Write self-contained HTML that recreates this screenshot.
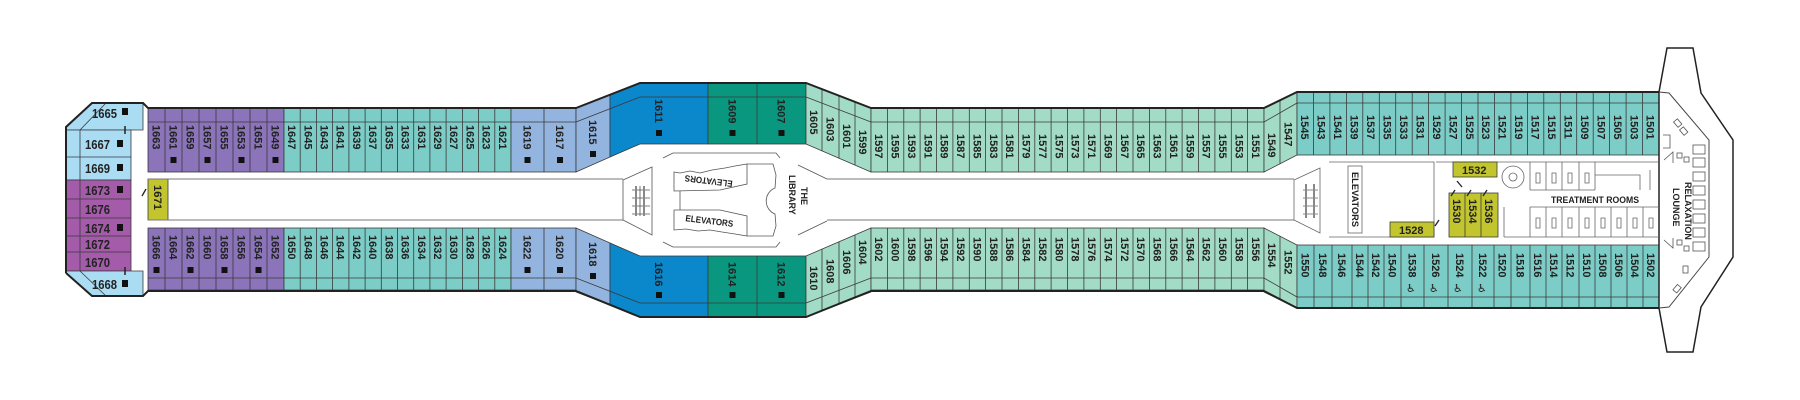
<!DOCTYPE html>
<html><head><meta charset="utf-8"><style>
html,body{margin:0;padding:0;background:#fff;}
svg{display:block;}
.c{stroke:#3a3a3a;stroke-width:0.8;}
.t{font-family:"Liberation Sans",sans-serif;font-size:11px;font-weight:bold;fill:#222;}
.h{font-family:"Liberation Sans",sans-serif;font-size:13px;font-weight:bold;fill:#222;}
.s{font-family:"Liberation Sans",sans-serif;font-size:9px;font-weight:bold;fill:#222;}
</style></head><body>
<svg width="1800" height="400" viewBox="0 0 1800 400" xmlns="http://www.w3.org/2000/svg">
<rect width="1800" height="400" fill="#fff"/>

<!-- LEFT END BLOCK -->
<polygon class="c" fill="#aadcf3" points="66,127 92,103 143,103 143,130 66,130"/>
<polygon class="c" fill="#aadcf3" points="66,130 131,130 131,180 66,180"/>
<line class="c" x1="66" y1="157" x2="131" y2="157"/>
<rect class="c" fill="#a45ba9" x="66" y="180" width="65" height="91"/>
<line class="c" x1="66" y1="199" x2="131" y2="199"/>
<line class="c" x1="66" y1="218" x2="131" y2="218"/>
<line class="c" x1="66" y1="236" x2="131" y2="236"/>
<line class="c" x1="66" y1="252" x2="131" y2="252"/>
<polygon class="c" fill="#aadcf3" points="66,271 143,271 143,296 92,296 66,273"/>
<line class="c" x1="80" y1="130" x2="80" y2="271"/>
<line class="c" x1="80" y1="130" x2="106" y2="103"/>
<line class="c" x1="80" y1="271" x2="106" y2="296"/>
<line stroke="#222" stroke-width="1.5" x1="125" y1="126" x2="125" y2="134"/>
<line stroke="#222" stroke-width="1.5" x1="125" y1="267" x2="125" y2="275"/>
<text class="h" x="92" y="118" textLength="25" lengthAdjust="spacingAndGlyphs">1665</text><rect x="122" y="108" width="6" height="7" fill="#111"/>
<text class="h" x="85" y="149" textLength="25" lengthAdjust="spacingAndGlyphs">1667</text><rect x="117" y="140" width="6" height="7" fill="#111"/>
<text class="h" x="85" y="173" textLength="25" lengthAdjust="spacingAndGlyphs">1669</text><rect x="117" y="164" width="6" height="7" fill="#111"/>
<text class="h" x="85" y="195" textLength="25" lengthAdjust="spacingAndGlyphs">1673</text><rect x="117" y="186" width="6" height="7" fill="#111"/>
<text class="h" x="85" y="214" textLength="25" lengthAdjust="spacingAndGlyphs">1676</text>
<text class="h" x="85" y="233" textLength="25" lengthAdjust="spacingAndGlyphs">1674</text><rect x="117" y="224" width="6" height="7" fill="#111"/>
<text class="h" x="85" y="249" textLength="25" lengthAdjust="spacingAndGlyphs">1672</text>
<text class="h" x="85" y="267" textLength="25" lengthAdjust="spacingAndGlyphs">1670</text>
<text class="h" x="92" y="289" textLength="25" lengthAdjust="spacingAndGlyphs">1668</text><rect x="122" y="280" width="6" height="7" fill="#111"/>

<!-- 1671 -->
<rect class="c" fill="#c3c52e" x="148" y="179" width="20" height="41"/>
<text class="t" x="154" y="185" transform="rotate(90 154 185)" textLength="25" lengthAdjust="spacingAndGlyphs">1671</text>
<line stroke="#222" stroke-width="1.3" x1="142" y1="196" x2="146" y2="189"/>

<!-- LEFT ROWS -->
<rect class="c" fill="#8b74b9" x="148" y="108" width="136" height="64"/>
<rect class="c" fill="#7ccdc7" x="284" y="108" width="227" height="64"/>
<rect class="c" fill="#93b4de" x="511" y="108" width="65" height="64"/>
<rect class="c" fill="#8b74b9" x="148" y="228" width="136" height="62"/>
<rect class="c" fill="#7ccdc7" x="284" y="228" width="227" height="62"/>
<rect class="c" fill="#93b4de" x="511" y="228" width="65" height="62"/>
<g class="c">
<line x1="148" y1="122" x2="576" y2="122"/><line x1="148" y1="278" x2="576" y2="278"/>
<path d="M165 108V172M182 108V172M199 108V172M216 108V172M233 108V172M250 108V172M267 108V172M300.2 108V172M316.4 108V172M332.6 108V172M348.9 108V172M365.1 108V172M381.3 108V172M397.5 108V172M413.7 108V172M429.9 108V172M446.1 108V172M462.4 108V172M478.6 108V172M494.8 108V172M544 108V172"/>
<path d="M165 228V290M182 228V290M199 228V290M216 228V290M233 228V290M250 228V290M267 228V290M300.2 228V290M316.4 228V290M332.6 228V290M348.9 228V290M365.1 228V290M381.3 228V290M397.5 228V290M413.7 228V290M429.9 228V290M446.1 228V290M462.4 228V290M478.6 228V290M494.8 228V290M544 228V290"/>
</g>

<!-- corridor lines -->
<g stroke="#777" stroke-width="1">
<line x1="148" y1="179" x2="623" y2="179"/><line x1="148" y1="220" x2="623" y2="220"/>
<line x1="827" y1="179" x2="1294" y2="179"/><line x1="827" y1="220" x2="1294" y2="220"/>
</g>

<!-- MID DARK SECTION -->
<polygon class="c" fill="#93b4de" points="576,108 610,95 610,157 576,172"/>
<polygon class="c" fill="#93b4de" points="576,292 610,305 610,243 576,228"/>
<polygon class="c" fill="#0b88cb" points="610,95 640,83 708,83 708,144 640,144 610,157"/>
<polygon class="c" fill="#0b88cb" points="610,305 640,317 708,317 708,256 640,256 610,243"/>
<rect class="c" fill="#0a977f" x="708" y="83" width="98" height="61"/>
<rect class="c" fill="#0a977f" x="708" y="256" width="98" height="61"/>
<line class="c" x1="757" y1="83" x2="757" y2="144"/><line class="c" x1="757" y1="256" x2="757" y2="317"/>
<polyline class="c" fill="none" points="576,122 640,97 806,97"/>
<polyline class="c" fill="none" points="576,278 640,303 806,303"/>
<polygon class="c" fill="#a3dcc6" points="806,83 871,108 871,172 806,144"/>
<polygon class="c" fill="#a3dcc6" points="806,317 871,292 871,228 806,256"/>
<g class="c">
<line x1="806" y1="97" x2="871" y2="122"/><line x1="806" y1="303" x2="871" y2="278"/>
<path d="M822 89V151M839 96V158M855 102V165M822 311V249M839 304V242M855 298V235"/>
</g>

<!-- MID STRAIGHT -->
<rect class="c" fill="#a3dcc6" x="871" y="108" width="393" height="64"/>
<rect class="c" fill="#a3dcc6" x="871" y="228" width="393" height="62"/>
<g class="c">
<line x1="871" y1="122" x2="1264" y2="122"/><line x1="871" y1="278" x2="1264" y2="278"/>
<path d="M887.4 108V172M903.8 108V172M920.1 108V172M936.5 108V172M952.9 108V172M969.3 108V172M985.6 108V172M1002 108V172M1018.4 108V172M1034.8 108V172M1051.1 108V172M1067.5 108V172M1083.9 108V172M1100.3 108V172M1116.6 108V172M1133 108V172M1149.4 108V172M1165.8 108V172M1182.1 108V172M1198.5 108V172M1214.9 108V172M1231.3 108V172M1247.6 108V172"/>
<path d="M887.4 228V290M903.8 228V290M920.1 228V290M936.5 228V290M952.9 228V290M969.3 228V290M985.6 228V290M1002 228V290M1018.4 228V290M1034.8 228V290M1051.1 228V290M1067.5 228V290M1083.9 228V290M1100.3 228V290M1116.6 228V290M1133 228V290M1149.4 228V290M1165.8 228V290M1182.1 228V290M1198.5 228V290M1214.9 228V290M1231.3 228V290M1247.6 228V290"/>
</g>
<polygon class="c" fill="#a3dcc6" points="1264,108 1297,92 1297,155 1264,172"/>
<polygon class="c" fill="#a3dcc6" points="1264,292 1297,308 1297,245 1264,228"/>
<g class="c"><line x1="1264" y1="122" x2="1297" y2="103"/><line x1="1264" y1="278" x2="1297" y2="297"/>
<path d="M1280 100V164M1280 300V236"/></g>

<!-- RIGHT ROWS -->
<rect class="c" fill="#7ccdc7" x="1297" y="92" width="362" height="63"/>
<rect class="c" fill="#7ccdc7" x="1297" y="245" width="362" height="63"/>
<g class="c">
<line x1="1297" y1="103" x2="1659" y2="103"/><line x1="1297" y1="297" x2="1659" y2="297"/>
<path d="M1313.5 92V155M1329.9 92V155M1346.4 92V155M1362.8 92V155M1379.3 92V155M1395.7 92V155M1412.2 92V155M1428.6 92V155M1445.1 92V155M1461.5 92V155M1478 92V155M1494.5 92V155M1510.9 92V155M1527.4 92V155M1543.8 92V155M1560.3 92V155M1576.7 92V155M1593.2 92V155M1609.6 92V155M1626.1 92V155M1642.5 92V155"/>
<path d="M1314 245V308M1332 245V308M1352 245V308M1368 245V308M1384 245V308M1401 245V308M1424 245V308M1448 245V308M1472 245V308M1494 245V308M1511 245V308M1530 245V308M1546 245V308M1562 245V308M1579 245V308M1595 245V308M1611 245V308M1627 245V308M1643 245V308"/>
</g>

<!-- BOW -->
<polygon fill="#fff" stroke="#222" stroke-width="1.5" points="1659,92 1667,48 1693,48 1701,93 1733,140 1733,257 1701,307 1693,352 1667,352 1659,308"/>
<polyline fill="none" stroke="#444" stroke-width="1" points="1659,92 1669,93 1709,140 1709,257 1669,307 1659,308"/>
<g fill="none" stroke="#555" stroke-width="0.8">
<rect x="1693" y="145" width="12" height="9"/><rect x="1693" y="158" width="12" height="9"/><rect x="1693" y="172" width="12" height="9"/><rect x="1693" y="186" width="12" height="9"/><rect x="1693" y="200" width="12" height="9"/><rect x="1693" y="214" width="12" height="9"/><rect x="1693" y="228" width="12" height="9"/><rect x="1693" y="242" width="12" height="9"/>
<rect x="1677" y="153" width="5" height="5"/><rect x="1684" y="157" width="5" height="5"/><rect x="1677" y="240" width="5" height="5"/><rect x="1684" y="246" width="5" height="5"/>
<rect x="1675" y="120" width="5" height="7" transform="rotate(-40 1677 123)"/><rect x="1681" y="128" width="5" height="7" transform="rotate(-40 1683 131)"/>
<rect x="1683" y="266" width="5" height="7"/><rect x="1675" y="285" width="5" height="7" transform="rotate(40 1677 288)"/>
<path d="M1663 135H1670V148H1663M1664 160L1673 152L1673 163M1664 240L1673 248L1673 238"/>
</g>
<text class="s" x="1685" y="182" transform="rotate(90 1685 182)">RELAXATION</text>
<text class="s" x="1673" y="188" transform="rotate(90 1673 188)">LOUNGE</text>

<!-- ship outline thick -->
<polyline fill="none" stroke="#222" stroke-width="2" points="66,273 66,127 92,103 143,103 148,108 576,108 640,83 806,83 871,108 1264,108 1297,92 1659,92"/>
<polyline fill="none" stroke="#222" stroke-width="2" points="66,273 92,296 143,296 148,291 576,291 640,317 806,317 871,291 1264,291 1297,308 1659,308"/>

<!-- CENTER -->
<g fill="none" stroke="#555" stroke-width="0.8">
<polygon points="623,180 652,167 652,235 623,220"/>
<path d="M632 190H650M632 198H650M632 206H650M632 214H650M636 186V216M640 186V216M644 186V216"/>
<polyline points="663,158 673,153 776,153 780,158"/>
<polyline points="663,242 673,247 776,247 780,242"/>
<line x1="798" y1="165" x2="827" y2="179"/><line x1="798" y1="235" x2="827" y2="221"/>
<polygon points="674,172 680,173 690,171 700,173 712,170 725,168 735,166 747,164 747,184 720,190 674,191"/>
<polygon points="674,210 720,210 747,216 747,236 735,234 722,232 710,230 698,231 686,229 674,230"/>
<line x1="680" y1="191" x2="680" y2="210"/>
<path d="M747 164H773L776 175L775 188A14 14 0 0 0 775 214L776 226L773 236H747"/>
</g>
<g stroke="#888" stroke-width="2"><line x1="636" y1="186" x2="636" y2="216"/><line x1="644" y1="186" x2="644" y2="216"/></g>
<text class="s" text-anchor="middle" transform="translate(709,178) rotate(187)" textLength="48" lengthAdjust="spacingAndGlyphs">ELEVATORS</text>
<text class="s" text-anchor="middle" transform="translate(709,224) rotate(7)" textLength="48" lengthAdjust="spacingAndGlyphs">ELEVATORS</text>
<text class="s" x="801" y="187" transform="rotate(90 801 187)">THE</text>
<text class="s" x="789" y="175" transform="rotate(90 789 175)">LIBRARY</text>

<!-- RIGHT INTERIOR -->
<g fill="none" stroke="#666" stroke-width="0.8">
<polygon points="1294,180 1320,168 1320,233 1294,220"/>
<path d="M1303 190H1318M1303 198H1318M1303 206H1318M1303 214H1318M1306 184V218M1314 184V218"/>
<path d="M1329 162H1434V237H1329"/>
<rect x="1348" y="166" width="14" height="67"/>
<path d="M1436 162H1659M1504 237H1659M1504 207V237M1530 162V190M1546 162V190M1562 162V190M1579 162V190M1595 162V190M1530 190H1595M1530 207V237M1546 207V237M1562 207V237M1579 207V237M1595 207V237M1611 207V237M1627 207V237M1643 207V237M1530 207H1659M1595 175H1640V190M1650 170V190"/>
<circle cx="1513" cy="177" r="11"/><circle cx="1513" cy="177" r="4"/>
<path d="M1536 173h4v10h-4zM1552 173h4v10h-4zM1568 173h4v10h-4zM1585 173h4v10h-4zM1536 218h4v10h-4zM1552 218h4v10h-4zM1568 218h4v10h-4zM1585 218h4v10h-4zM1601 218h4v10h-4zM1617 218h4v10h-4zM1633 218h4v10h-4zM1649 218h4v10h-4z"/>
</g>
<g stroke="#888" stroke-width="2"><line x1="1306" y1="184" x2="1306" y2="218"/><line x1="1314" y1="184" x2="1314" y2="218"/></g>
<text class="s" x="1352" y="172" transform="rotate(90 1352 172)" textLength="55" lengthAdjust="spacingAndGlyphs">ELEVATORS</text>
<text class="s" x="1551" y="203" font-size="10" textLength="88" lengthAdjust="spacingAndGlyphs">TREATMENT ROOMS</text>
<rect class="c" fill="#c3c52e" x="1453" y="162" width="44" height="15"/>
<text class="t" x="1462" y="174">1532</text>
<rect class="c" fill="#c3c52e" x="1449" y="193" width="49" height="44"/>
<line class="c" x1="1465" y1="193" x2="1465" y2="237"/><line class="c" x1="1481" y1="193" x2="1481" y2="237"/>
<rect class="c" fill="#c3c52e" x="1390" y="222" width="44" height="15"/>
<text class="t" x="1399" y="234">1528</text>
<g stroke="#222" stroke-width="1.3"><line x1="1457" y1="181" x2="1462" y2="187"/><line x1="1451" y1="196" x2="1455" y2="190"/><line x1="1467" y1="196" x2="1471" y2="190"/><line x1="1483" y1="196" x2="1487" y2="190"/><line x1="1435" y1="226" x2="1439" y2="220"/></g>
<text class="t" x="1453" y="199" transform="rotate(90 1453 199)">1530</text>
<text class="t" x="1469" y="199" transform="rotate(90 1469 199)">1534</text>
<text class="t" x="1485" y="199" transform="rotate(90 1485 199)">1536</text>

<!-- LABELS: left top -->
<g class="t">
<text x="152.5" y="125" transform="rotate(90 152.5 125)">1663</text>
<text x="169.5" y="125" transform="rotate(90 169.5 125)">1661</text>
<text x="186.5" y="125" transform="rotate(90 186.5 125)">1659</text>
<text x="203.5" y="125" transform="rotate(90 203.5 125)">1657</text>
<text x="220.5" y="125" transform="rotate(90 220.5 125)">1655</text>
<text x="237.5" y="125" transform="rotate(90 237.5 125)">1653</text>
<text x="254.5" y="125" transform="rotate(90 254.5 125)">1651</text>
<text x="271.5" y="125" transform="rotate(90 271.5 125)">1649</text>
<text x="288.1" y="125" transform="rotate(90 288.1 125)">1647</text>
<text x="304.3" y="125" transform="rotate(90 304.3 125)">1645</text>
<text x="320.5" y="125" transform="rotate(90 320.5 125)">1643</text>
<text x="336.7" y="125" transform="rotate(90 336.7 125)">1641</text>
<text x="353" y="125" transform="rotate(90 353 125)">1639</text>
<text x="369.2" y="125" transform="rotate(90 369.2 125)">1637</text>
<text x="385.4" y="125" transform="rotate(90 385.4 125)">1635</text>
<text x="401.6" y="125" transform="rotate(90 401.6 125)">1633</text>
<text x="417.8" y="125" transform="rotate(90 417.8 125)">1631</text>
<text x="434" y="125" transform="rotate(90 434 125)">1629</text>
<text x="450.2" y="125" transform="rotate(90 450.2 125)">1627</text>
<text x="466.5" y="125" transform="rotate(90 466.5 125)">1625</text>
<text x="482.7" y="125" transform="rotate(90 482.7 125)">1623</text>
<text x="498.9" y="125" transform="rotate(90 498.9 125)">1621</text>
<text x="523.5" y="125" transform="rotate(90 523.5 125)">1619</text>
<text x="556" y="125" transform="rotate(90 556 125)">1617</text>
<text x="589" y="120" transform="rotate(90 589 120)">1615</text>
<text x="655" y="99" transform="rotate(90 655 99)">1611</text>
<text x="728.5" y="99" transform="rotate(90 728.5 99)">1609</text>
<text x="777.5" y="99" transform="rotate(90 777.5 99)">1607</text>
<text x="810" y="110" transform="rotate(90 810 110)">1605</text>
<text x="826.5" y="117" transform="rotate(90 826.5 117)">1603</text>
<text x="843" y="124" transform="rotate(90 843 124)">1601</text>
<text x="859" y="130" transform="rotate(90 859 130)">1599</text>
</g>
<g class="t">
<text x="152.5" y="235" transform="rotate(90 152.5 235)">1666</text>
<text x="169.5" y="235" transform="rotate(90 169.5 235)">1664</text>
<text x="186.5" y="235" transform="rotate(90 186.5 235)">1662</text>
<text x="203.5" y="235" transform="rotate(90 203.5 235)">1660</text>
<text x="220.5" y="235" transform="rotate(90 220.5 235)">1658</text>
<text x="237.5" y="235" transform="rotate(90 237.5 235)">1656</text>
<text x="254.5" y="235" transform="rotate(90 254.5 235)">1654</text>
<text x="271.5" y="235" transform="rotate(90 271.5 235)">1652</text>
<text x="288.1" y="235" transform="rotate(90 288.1 235)">1650</text>
<text x="304.3" y="235" transform="rotate(90 304.3 235)">1648</text>
<text x="320.5" y="235" transform="rotate(90 320.5 235)">1646</text>
<text x="336.7" y="235" transform="rotate(90 336.7 235)">1644</text>
<text x="353" y="235" transform="rotate(90 353 235)">1642</text>
<text x="369.2" y="235" transform="rotate(90 369.2 235)">1640</text>
<text x="385.4" y="235" transform="rotate(90 385.4 235)">1638</text>
<text x="401.6" y="235" transform="rotate(90 401.6 235)">1636</text>
<text x="417.8" y="235" transform="rotate(90 417.8 235)">1634</text>
<text x="434" y="235" transform="rotate(90 434 235)">1632</text>
<text x="450.2" y="235" transform="rotate(90 450.2 235)">1630</text>
<text x="466.5" y="235" transform="rotate(90 466.5 235)">1628</text>
<text x="482.7" y="235" transform="rotate(90 482.7 235)">1626</text>
<text x="498.9" y="235" transform="rotate(90 498.9 235)">1624</text>
<text x="523.5" y="235" transform="rotate(90 523.5 235)">1622</text>
<text x="556" y="235" transform="rotate(90 556 235)">1620</text>
<text x="589" y="242" transform="rotate(90 589 242)">1618</text>
<text x="655" y="262" transform="rotate(90 655 262)">1616</text>
<text x="728.5" y="262" transform="rotate(90 728.5 262)">1614</text>
<text x="777.5" y="262" transform="rotate(90 777.5 262)">1612</text>
<text x="810" y="266" transform="rotate(90 810 266)">1610</text>
<text x="826.5" y="259" transform="rotate(90 826.5 259)">1608</text>
<text x="843" y="250" transform="rotate(90 843 250)">1606</text>
<text x="859" y="240" transform="rotate(90 859 240)">1604</text>
</g>
<g class="t">
<text x="875.2" y="134" transform="rotate(90 875.2 134)">1597</text>
<text x="891.6" y="134" transform="rotate(90 891.6 134)">1595</text>
<text x="907.9" y="134" transform="rotate(90 907.9 134)">1593</text>
<text x="924.3" y="134" transform="rotate(90 924.3 134)">1591</text>
<text x="940.7" y="134" transform="rotate(90 940.7 134)">1589</text>
<text x="957.1" y="134" transform="rotate(90 957.1 134)">1587</text>
<text x="973.5" y="134" transform="rotate(90 973.5 134)">1585</text>
<text x="989.8" y="134" transform="rotate(90 989.8 134)">1583</text>
<text x="1006.2" y="134" transform="rotate(90 1006.2 134)">1581</text>
<text x="1022.6" y="134" transform="rotate(90 1022.6 134)">1579</text>
<text x="1039" y="134" transform="rotate(90 1039 134)">1577</text>
<text x="1055.3" y="134" transform="rotate(90 1055.3 134)">1575</text>
<text x="1071.7" y="134" transform="rotate(90 1071.7 134)">1573</text>
<text x="1088.1" y="134" transform="rotate(90 1088.1 134)">1571</text>
<text x="1104.5" y="134" transform="rotate(90 1104.5 134)">1569</text>
<text x="1120.8" y="134" transform="rotate(90 1120.8 134)">1567</text>
<text x="1137.2" y="134" transform="rotate(90 1137.2 134)">1565</text>
<text x="1153.6" y="134" transform="rotate(90 1153.6 134)">1563</text>
<text x="1170" y="134" transform="rotate(90 1170 134)">1561</text>
<text x="1186.3" y="134" transform="rotate(90 1186.3 134)">1559</text>
<text x="1202.7" y="134" transform="rotate(90 1202.7 134)">1557</text>
<text x="1219.1" y="134" transform="rotate(90 1219.1 134)">1555</text>
<text x="1235.5" y="134" transform="rotate(90 1235.5 134)">1553</text>
<text x="1251.8" y="134" transform="rotate(90 1251.8 134)">1551</text>
<text x="1268" y="133" transform="rotate(90 1268 133)">1549</text>
<text x="1284.5" y="122" transform="rotate(90 1284.5 122)">1547</text>
</g>
<g class="t">
<text x="875.2" y="237" transform="rotate(90 875.2 237)">1602</text>
<text x="891.6" y="237" transform="rotate(90 891.6 237)">1600</text>
<text x="907.9" y="237" transform="rotate(90 907.9 237)">1598</text>
<text x="924.3" y="237" transform="rotate(90 924.3 237)">1596</text>
<text x="940.7" y="237" transform="rotate(90 940.7 237)">1594</text>
<text x="957.1" y="237" transform="rotate(90 957.1 237)">1592</text>
<text x="973.5" y="237" transform="rotate(90 973.5 237)">1590</text>
<text x="989.8" y="237" transform="rotate(90 989.8 237)">1588</text>
<text x="1006.2" y="237" transform="rotate(90 1006.2 237)">1586</text>
<text x="1022.6" y="237" transform="rotate(90 1022.6 237)">1584</text>
<text x="1039" y="237" transform="rotate(90 1039 237)">1582</text>
<text x="1055.3" y="237" transform="rotate(90 1055.3 237)">1580</text>
<text x="1071.7" y="237" transform="rotate(90 1071.7 237)">1578</text>
<text x="1088.1" y="237" transform="rotate(90 1088.1 237)">1576</text>
<text x="1104.5" y="237" transform="rotate(90 1104.5 237)">1574</text>
<text x="1120.8" y="237" transform="rotate(90 1120.8 237)">1572</text>
<text x="1137.2" y="237" transform="rotate(90 1137.2 237)">1570</text>
<text x="1153.6" y="237" transform="rotate(90 1153.6 237)">1568</text>
<text x="1170" y="237" transform="rotate(90 1170 237)">1566</text>
<text x="1186.3" y="237" transform="rotate(90 1186.3 237)">1564</text>
<text x="1202.7" y="237" transform="rotate(90 1202.7 237)">1562</text>
<text x="1219.1" y="237" transform="rotate(90 1219.1 237)">1560</text>
<text x="1235.5" y="237" transform="rotate(90 1235.5 237)">1558</text>
<text x="1251.8" y="237" transform="rotate(90 1251.8 237)">1556</text>
<text x="1268" y="243" transform="rotate(90 1268 243)">1554</text>
<text x="1284.5" y="250" transform="rotate(90 1284.5 250)">1552</text>
</g>
<g class="t">
<text x="1301.2" y="115" transform="rotate(90 1301.2 115)">1545</text>
<text x="1317.7" y="115" transform="rotate(90 1317.7 115)">1543</text>
<text x="1334.1" y="115" transform="rotate(90 1334.1 115)">1541</text>
<text x="1350.6" y="115" transform="rotate(90 1350.6 115)">1539</text>
<text x="1367" y="115" transform="rotate(90 1367 115)">1537</text>
<text x="1383.5" y="115" transform="rotate(90 1383.5 115)">1535</text>
<text x="1399.9" y="115" transform="rotate(90 1399.9 115)">1533</text>
<text x="1416.4" y="115" transform="rotate(90 1416.4 115)">1531</text>
<text x="1432.8" y="115" transform="rotate(90 1432.8 115)">1529</text>
<text x="1449.3" y="115" transform="rotate(90 1449.3 115)">1527</text>
<text x="1465.8" y="115" transform="rotate(90 1465.8 115)">1525</text>
<text x="1482.2" y="115" transform="rotate(90 1482.2 115)">1523</text>
<text x="1498.7" y="115" transform="rotate(90 1498.7 115)">1521</text>
<text x="1515.1" y="115" transform="rotate(90 1515.1 115)">1519</text>
<text x="1531.6" y="115" transform="rotate(90 1531.6 115)">1517</text>
<text x="1548" y="115" transform="rotate(90 1548 115)">1515</text>
<text x="1564.5" y="115" transform="rotate(90 1564.5 115)">1511</text>
<text x="1580.9" y="115" transform="rotate(90 1580.9 115)">1509</text>
<text x="1597.4" y="115" transform="rotate(90 1597.4 115)">1507</text>
<text x="1613.8" y="115" transform="rotate(90 1613.8 115)">1505</text>
<text x="1630.3" y="115" transform="rotate(90 1630.3 115)">1503</text>
<text x="1646.7" y="115" transform="rotate(90 1646.7 115)">1501</text>
</g>
<g class="t">
<text x="1301.5" y="253" transform="rotate(90 1301.5 253)">1550</text>
<text x="1319" y="253" transform="rotate(90 1319 253)">1548</text>
<text x="1338" y="253" transform="rotate(90 1338 253)">1546</text>
<text x="1356" y="253" transform="rotate(90 1356 253)">1544</text>
<text x="1372" y="253" transform="rotate(90 1372 253)">1542</text>
<text x="1388.5" y="253" transform="rotate(90 1388.5 253)">1540</text>
<text x="1408.5" y="253" transform="rotate(90 1408.5 253)">1538</text>
<text x="1432" y="253" transform="rotate(90 1432 253)">1526</text>
<text x="1456" y="253" transform="rotate(90 1456 253)">1524</text>
<text x="1479" y="253" transform="rotate(90 1479 253)">1522</text>
<text x="1498.5" y="253" transform="rotate(90 1498.5 253)">1520</text>
<text x="1516.5" y="253" transform="rotate(90 1516.5 253)">1518</text>
<text x="1534" y="253" transform="rotate(90 1534 253)">1516</text>
<text x="1550" y="253" transform="rotate(90 1550 253)">1514</text>
<text x="1566.5" y="253" transform="rotate(90 1566.5 253)">1512</text>
<text x="1583" y="253" transform="rotate(90 1583 253)">1510</text>
<text x="1599" y="253" transform="rotate(90 1599 253)">1508</text>
<text x="1615" y="253" transform="rotate(90 1615 253)">1506</text>
<text x="1631" y="253" transform="rotate(90 1631 253)">1504</text>
<text x="1647" y="253" transform="rotate(90 1647 253)">1502</text>
</g>
<g font-family="DejaVu Sans, sans-serif" font-size="11" fill="#222">
<text x="1406" y="292">♿</text><text x="1429" y="292">♿</text><text x="1453" y="292">♿</text><text x="1477" y="292">♿</text>
</g>

<g fill="#111">
<rect x="170.5" y="157" width="6" height="6"/><rect x="204.5" y="157" width="6" height="6"/><rect x="238.5" y="157" width="6" height="6"/><rect x="272.5" y="157" width="6" height="6"/>
<rect x="524.5" y="157" width="6" height="6"/><rect x="557" y="157" width="6" height="6"/><rect x="590" y="151" width="6" height="6"/>
<rect x="656" y="130" width="6" height="6"/><rect x="729.5" y="130" width="6" height="6"/><rect x="778.5" y="130" width="6" height="6"/>
<rect x="153.5" y="267" width="6" height="6"/><rect x="187.5" y="267" width="6" height="6"/><rect x="221.5" y="267" width="6" height="6"/><rect x="255.5" y="267" width="6" height="6"/>
<rect x="524.5" y="267" width="6" height="6"/><rect x="557" y="267" width="6" height="6"/><rect x="590" y="273" width="6" height="6"/>
<rect x="656" y="292" width="6" height="6"/><rect x="729.5" y="292" width="6" height="6"/><rect x="778.5" y="292" width="6" height="6"/>
</g>
</svg>
</body></html>
